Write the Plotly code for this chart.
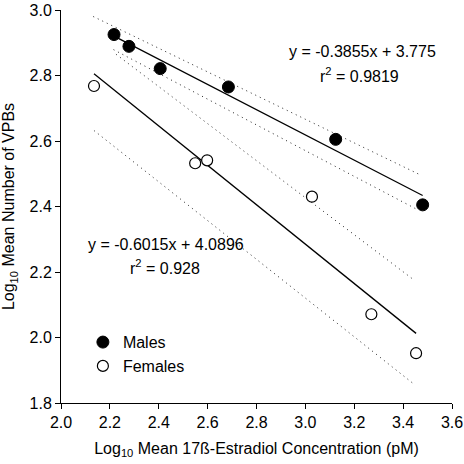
import plotly.graph_objects as go

# Data (log10 values)
male_x = [2.217, 2.278, 2.406, 2.685, 3.124, 3.480]
male_y = [2.925, 2.889, 2.821, 2.765, 2.605, 2.405]
female_x = [2.135, 2.549, 2.598, 3.027, 3.270, 3.453]
female_y = [2.768, 2.532, 2.541, 2.430, 2.071, 1.952]

# Regression fits shown on the chart
male_slope, male_intercept = -0.3855, 3.775
female_slope, female_intercept = -0.6015, 4.0896

# Dotted confidence band end points
male_upper_x = [2.132, 3.466]
male_upper_y = [2.980, 2.498]
male_lower_x = [2.215, 3.462]
male_lower_y = [2.879, 2.389]
female_upper_x = [2.225, 3.442]
female_upper_y = [2.865, 2.177]
female_lower_x = [2.135, 3.442]
female_lower_y = [2.632, 1.859]

x_ticks = [2.0, 2.2, 2.4, 2.6, 2.8, 3.0, 3.2, 3.4, 3.6]
y_ticks = [1.8, 2.0, 2.2, 2.4, 2.6, 2.8, 3.0]

FONT = "Liberation Sans, Arial, Helvetica, sans-serif"

fig = go.Figure()

dot_line = dict(color="#222", width=1, dash="1px,4px")
for bx, by in [(male_upper_x, male_upper_y), (male_lower_x, male_lower_y),
               (female_upper_x, female_upper_y), (female_lower_x, female_lower_y)]:
    fig.add_trace(go.Scatter(x=bx, y=by, mode="lines", line=dot_line,
                             showlegend=False, hoverinfo="skip"))

mx = [min(male_x), max(male_x)]
fx = [min(female_x), max(female_x)]
fig.add_trace(go.Scatter(x=mx, y=[male_slope * v + male_intercept for v in mx],
                         mode="lines", line=dict(color="black", width=1.3),
                         showlegend=False))
fig.add_trace(go.Scatter(x=fx, y=[female_slope * v + female_intercept for v in fx],
                         mode="lines", line=dict(color="black", width=1.3),
                         showlegend=False))

fig.add_trace(go.Scatter(x=male_x, y=male_y, mode="markers", name="Males",
                         marker=dict(size=12, color="black", symbol="circle",
                                     line=dict(color="black", width=1))))
fig.add_trace(go.Scatter(x=female_x, y=female_y, mode="markers", name="Females",
                         marker=dict(size=11, color="white", symbol="circle",
                                     line=dict(color="black", width=1.2))))

ann_font = dict(size=16, color="black", family=FONT)
fig.add_annotation(x=3.235, y=2.872, text="y = -0.3855x + 3.775", showarrow=False, font=ann_font)
fig.add_annotation(x=3.223, y=2.802, text="r<sup>2</sup> = 0.9819", showarrow=False, font=ann_font)
fig.add_annotation(x=2.429, y=2.285, text="y = -0.6015x + 4.0896", showarrow=False, font=ann_font)
fig.add_annotation(x=2.425, y=2.216, text="r<sup>2</sup> = 0.928", showarrow=False, font=ann_font)

axis_common = dict(showgrid=False, zeroline=False, showline=True, linecolor="black",
                   linewidth=1, ticks="outside", ticklen=5, tickcolor="black",
                   tickfont=dict(size=16, color="black", family=FONT),
                   mirror=False, automargin=False)

fig.update_layout(
    width=464, height=464,
    margin=dict(l=61, r=12, t=10, b=61),
    paper_bgcolor="white", plot_bgcolor="white",
    font=dict(family=FONT, color="black", size=16),
    xaxis=dict(range=[2.0, 3.6], tickvals=x_ticks,
               ticktext=[f"{v:.1f}" for v in x_ticks],
               title=dict(text="Log<sub>10</sub> Mean 17ß-Estradiol Concentration (pM)",
                          font=dict(size=16, family=FONT), standoff=12),
               **axis_common),
    yaxis=dict(range=[1.8, 3.0], tickvals=y_ticks,
               ticktext=[f"{v:.1f}" for v in y_ticks],
               title=dict(text="Log<sub>10</sub> Mean Number of VPBs",
                          font=dict(size=16, family=FONT), standoff=10),
               **axis_common),
    legend=dict(x=0.056, y=0.198, xanchor="left", yanchor="top",
                font=dict(size=16, family=FONT, color="black"),
                bgcolor="rgba(0,0,0,0)", itemwidth=30, tracegroupgap=0),
)

fig.write_html("out.html", config={"displayModeBar": False},
               post_script="document.body.style.margin='0';document.body.style.overflow='hidden';")
